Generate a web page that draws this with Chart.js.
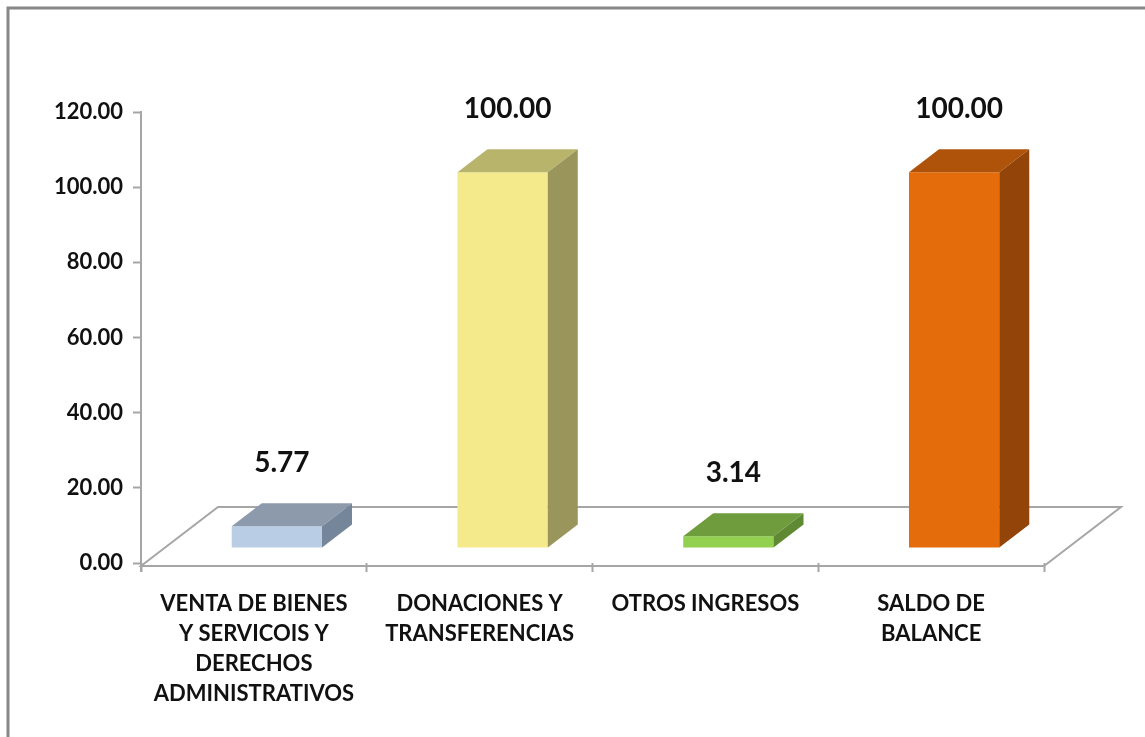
<!DOCTYPE html>
<html>
<head>
<meta charset="utf-8">
<script src="https://cdn.jsdelivr.net/npm/chart.js@4.4.1/dist/chart.umd.min.js"></script>
<style>
  body { margin: 0; background: #fff; }
  canvas { display: block; }
</style>
</head>
<body>
<canvas id="myChart" width="1145" height="737"></canvas>
<script>
// chart data
var categories = [
  ['VENTA DE BIENES', 'Y SERVICOIS Y', 'DERECHOS', 'ADMINISTRATIVOS'],
  ['DONACIONES Y', 'TRANSFERENCIAS'],
  ['OTROS INGRESOS'],
  ['SALDO DE', 'BALANCE']
];
var values = [5.77, 100.00, 3.14, 100.00];
var yMin = 0;
var yMax = 120;
var yStep = 20;

// colours for the three visible faces of each bar
var frontColors = ['#B9CDE5', '#F4EA8C', '#92D050', '#E46C0A'];
var topColors = ['#8D9AAC', '#B8B46C', '#6F9D3D', '#B0530A'];
var sideColors = ['#76869A', '#9A955B', '#5F8A33', '#934408'];

var FONT = 'Lato, "Open Sans", sans-serif';
var depthX = 30, depthY = -23;   // bar depth in pixels
var shiftX = 23, shiftY = -15;   // bars sit in the middle of the floor
var floorX = 77, floorY = -59;   // floor depth

var floorPlugin = {
  id: 'floor3d',
  beforeDraw: function(chart) {
    var ctx = chart.ctx;
    // outer frame
    ctx.save();
    ctx.strokeStyle = '#888888';
    ctx.lineWidth = 3;
    ctx.beginPath();
    ctx.moveTo(8, 740);
    ctx.lineTo(8, 8);
    ctx.lineTo(1150, 8);
    ctx.stroke();
    ctx.restore();
  },
  beforeDatasetsDraw: function(chart) {
    var ctx = chart.ctx;
    var a = chart.chartArea;
    var y0 = a.bottom + 3;
    ctx.save();
    ctx.strokeStyle = '#A6A6A6';
    ctx.lineWidth = 2;
    ctx.beginPath();
    ctx.moveTo(a.left, y0);
    ctx.lineTo(a.left + floorX, y0 + floorY);
    ctx.lineTo(a.right + floorX, y0 + floorY);
    ctx.lineTo(a.right, y0);
    ctx.closePath();
    ctx.stroke();
    // y axis line runs down to the floor
    ctx.beginPath();
    ctx.moveTo(a.left, a.bottom - 2);
    ctx.lineTo(a.left, y0 + 6);
    ctx.stroke();
    ctx.restore();
    // move the bars back into the middle of the floor
    ctx.save();
    ctx.translate(shiftX, shiftY);
  },
  afterDatasetsDraw: function(chart) {
    var ctx = chart.ctx;
    var meta = chart.getDatasetMeta(0);
    meta.data.forEach(function(bar, i) {
      var l = bar.x - bar.width / 2;
      var r = bar.x + bar.width / 2;
      var t = bar.y;
      var b = bar.base;
      // top face
      ctx.fillStyle = topColors[i];
      ctx.beginPath();
      ctx.moveTo(l, t);
      ctx.lineTo(l + depthX, t + depthY);
      ctx.lineTo(r + depthX, t + depthY);
      ctx.lineTo(r, t);
      ctx.closePath();
      ctx.fill();
      // side face
      ctx.fillStyle = sideColors[i];
      ctx.beginPath();
      ctx.moveTo(r, t);
      ctx.lineTo(r + depthX, t + depthY);
      ctx.lineTo(r + depthX, b + depthY);
      ctx.lineTo(r, b);
      ctx.closePath();
      ctx.fill();
    });
    ctx.restore();
    // value labels
    ctx.save();
    ctx.fillStyle = '#111111';
    ctx.font = 'bold 28px ' + FONT;
    ctx.textAlign = 'center';
    ctx.textBaseline = 'middle';
    meta.data.forEach(function(bar, i) {
      ctx.fillText(values[i].toFixed(2), bar.x + shiftX + 5, bar.y + shiftY - 63);
    });
    ctx.restore();
  }
};

var ctx = document.getElementById('myChart').getContext('2d');
var myChart = new Chart(ctx, {
  type: 'bar',
  data: {
    labels: categories,
    datasets: [{
      data: values,
      backgroundColor: frontColors,
      borderWidth: 0,
      categoryPercentage: 1.0,
      barPercentage: 0.4
    }]
  },
  options: {
    responsive: false,
    animation: false,
    layout: { padding: { top: 112, left: 0, right: 101, bottom: 0 } },
    plugins: {
      legend: { display: false },
      tooltip: { enabled: false }
    },
    scales: {
      x: {
        offset: true,
        grid: {
          display: true,
          drawOnChartArea: false,
          offset: true,
          tickLength: 9,
          tickWidth: 2,
          tickColor: '#A6A6A6'
        },
        border: { display: false },
        ticks: {
          color: '#111111',
          font: { family: FONT, size: 22, weight: 'bold', lineHeight: 1.36 },
          padding: 17,
          maxRotation: 0,
          autoSkip: false
        },
        afterFit: function(scale) { scale.height = 737 - 563; }
      },
      y: {
        min: yMin,
        max: yMax,
        ticks: {
          stepSize: yStep,
          color: '#111111',
          font: { family: FONT, size: 22, weight: 'bold' },
          padding: 10,
          callback: function(v) { return Number(v).toFixed(2); }
        },
        grid: {
          drawOnChartArea: false,
          tickLength: 8,
          tickWidth: 2,
          tickColor: '#A6A6A6'
        },
        border: { display: true, color: '#A6A6A6', width: 2 },
        afterFit: function(scale) { scale.width = 141; }
      }
    }
  },
  plugins: [floorPlugin]
});
</script>
</body>
</html>
